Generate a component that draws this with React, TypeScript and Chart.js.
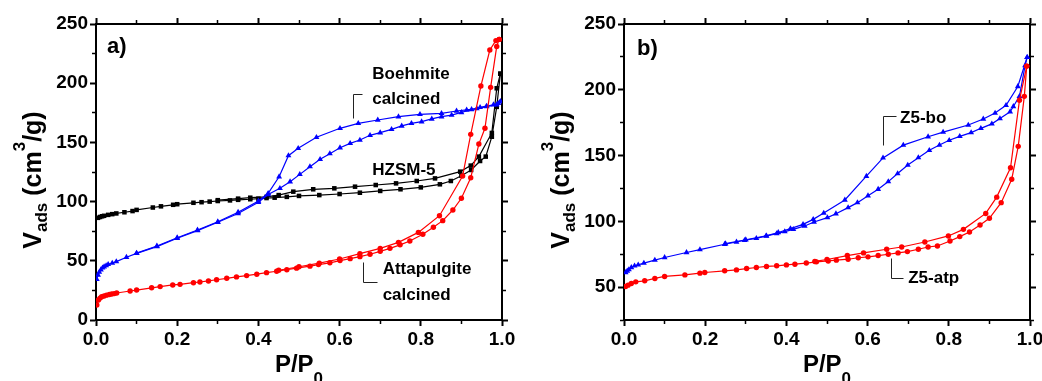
import React, { useEffect, useRef } from 'react';
import { Chart, registerables } from 'chart.js';

Chart.register(...registerables);

type Pt = [number, number];

// ---------- Panel a) ----------
const hzsmAds: Pt[] = [
  [0.005, 86.3], [0.01, 87], [0.015, 87.6], [0.02, 88], [0.03, 88.8], [0.04, 89.4], [0.05, 90],
  [0.07, 91], [0.09, 92], [0.1, 93], [0.14, 95], [0.16, 96], [0.19, 97.3], [0.2, 97.8],
  [0.24, 99], [0.26, 99.5], [0.28, 100], [0.3, 100.5], [0.33, 101], [0.35, 101.5], [0.38, 102],
  [0.4, 102.5], [0.42, 103], [0.44, 103.3], [0.47, 104], [0.5, 104.8], [0.55, 105.5],
  [0.6, 106.4], [0.65, 107.5], [0.7, 109], [0.75, 110.4], [0.8, 112], [0.847, 114.6],
  [0.874, 117.4], [0.9, 121.9], [0.924, 126.7], [0.946, 134.3], [0.96, 138], [0.975, 154.8],
  [0.987, 180], [0.996, 208],
];
const hzsmDes: Pt[] = [
  [0.996, 208], [0.987, 195.7], [0.975, 158], [0.943, 138], [0.923, 130.4], [0.897, 125.3],
  [0.835, 119.6], [0.79, 117.4], [0.739, 115.4], [0.689, 114], [0.638, 112.6], [0.587, 111.2],
  [0.535, 110.4], [0.486, 108.4], [0.45, 105.5], [0.42, 104], [0.38, 103.3], [0.35, 102.5],
  [0.3, 101.2],
];
const boehAds: Pt[] = [
  [0.002, 34.3], [0.005, 38], [0.008, 40.5], [0.012, 42.5], [0.016, 44], [0.02, 45],
  [0.025, 46], [0.03, 47], [0.04, 48], [0.05, 49.3], [0.075, 53], [0.1, 56.3], [0.15, 62],
  [0.2, 69], [0.25, 75.5], [0.3, 82.5], [0.35, 90], [0.4, 99.5], [0.424, 106], [0.453, 111.2],
  [0.478, 116.8], [0.502, 123], [0.527, 129.5], [0.552, 135.7], [0.576, 140.5], [0.601, 145.5],
  [0.626, 149.2], [0.65, 152], [0.675, 156], [0.7, 158.2], [0.728, 161], [0.753, 163.9],
  [0.777, 166.1], [0.802, 167.5], [0.827, 169.8], [0.851, 171.7], [0.876, 173.1], [0.9, 175.3],
  [0.925, 177.8], [0.946, 179.6], [0.962, 180.7], [0.979, 181.8], [0.991, 183], [0.996, 184.4],
];
const boehDes: Pt[] = [
  [0.996, 184.4], [0.987, 181.8], [0.962, 180.2], [0.938, 178.5], [0.913, 177.4],
  [0.888, 176.5], [0.851, 174.5], [0.798, 173.7], [0.745, 171.7], [0.694, 168.9],
  [0.646, 166.1], [0.601, 161.9], [0.543, 154.3], [0.498, 145], [0.474, 138.8], [0.451, 121],
  [0.424, 107], [0.4, 100.5], [0.35, 91], [0.3, 83], [0.25, 76], [0.2, 69.5], [0.15, 62.5],
  [0.1, 56.5],
];
const attaAds: Pt[] = [
  [0.002, 12.7], [0.006, 16.9], [0.01, 18.5], [0.014, 19.7], [0.02, 20.3], [0.026, 21],
  [0.033, 21.5], [0.039, 22], [0.045, 22.3], [0.051, 22.8], [0.084, 24.5], [0.1, 25.3],
  [0.137, 27.2], [0.158, 28.2], [0.189, 29.6], [0.207, 30.1], [0.24, 31.5], [0.256, 32.1],
  [0.277, 33], [0.297, 34], [0.322, 35.2], [0.346, 36.4], [0.371, 37.5], [0.396, 38.7],
  [0.42, 40], [0.445, 41.2], [0.47, 42.5], [0.494, 43.8], [0.527, 45.5], [0.548, 46.8],
  [0.576, 48.3], [0.601, 50.2], [0.626, 51.8], [0.65, 53.5], [0.675, 55.5], [0.7, 58],
  [0.724, 60.5], [0.749, 63.5], [0.773, 66.7], [0.805, 72.4], [0.831, 78.3], [0.854, 83.9],
  [0.879, 92.9], [0.9, 102.8], [0.923, 120.2], [0.943, 148.6], [0.958, 161.9], [0.972, 196.5],
  [0.987, 231], [0.993, 237],
];
const attaDes: Pt[] = [
  [0.993, 237], [0.985, 236], [0.97, 228], [0.948, 197.6], [0.923, 156.8], [0.903, 121.6],
  [0.846, 88.1], [0.794, 74], [0.745, 65.6], [0.7, 60.5], [0.65, 56], [0.6, 51.5], [0.55, 48],
  [0.5, 45], [0.45, 42],
];

// ---------- Panel b) ----------
const z5boAds: Pt[] = [
  [0.004, 61.1], [0.008, 62.3], [0.012, 63.3], [0.018, 64.9], [0.026, 66.2], [0.035, 66.9],
  [0.049, 68.2], [0.076, 70.5], [0.1, 72.5], [0.154, 76.3], [0.187, 78.5], [0.248, 82.6],
  [0.277, 84.3], [0.297, 85.6], [0.326, 87.1], [0.351, 88.9], [0.376, 90.7], [0.396, 92.2],
  [0.417, 93.9], [0.445, 96.5], [0.468, 99.5], [0.501, 102.8], [0.522, 105.8], [0.552, 110.4],
  [0.575, 114.2], [0.601, 119.5], [0.626, 124.4], [0.651, 130.2], [0.674, 136.3], [0.699, 142.8],
  [0.725, 148.4], [0.752, 154], [0.777, 158], [0.801, 161.6], [0.827, 164.6], [0.855, 167.4],
  [0.879, 170.7], [0.906, 174.1], [0.926, 178.1], [0.951, 183.3], [0.959, 187.3], [0.974, 195],
  [0.988, 218.5], [0.993, 224.7],
];
const z5boDes: Pt[] = [
  [0.993, 224.7], [0.97, 202.5], [0.941, 188.2], [0.914, 182.3], [0.885, 177.8], [0.848, 173.2],
  [0.786, 167.8], [0.749, 164.3], [0.688, 157.9], [0.638, 148.2], [0.597, 134.3], [0.544, 116.2],
  [0.492, 106.3], [0.466, 101.5], [0.441, 97.7], [0.41, 94.5], [0.38, 91.5], [0.35, 89],
  [0.3, 86], [0.25, 83],
];
const z5atpAds: Pt[] = [
  [0.004, 50.5], [0.01, 51.5], [0.018, 52.8], [0.029, 54], [0.051, 54.8], [0.076, 56.6],
  [0.1, 58.1], [0.15, 59.3], [0.187, 60.6], [0.199, 61.1], [0.248, 62.4], [0.277, 63.1],
  [0.302, 64.1], [0.326, 64.9], [0.351, 65.7], [0.376, 66.2], [0.4, 66.9], [0.421, 67.4],
  [0.449, 68.3], [0.474, 69.2], [0.503, 69.9], [0.523, 70.5], [0.552, 71.2], [0.577, 72.3],
  [0.601, 73], [0.626, 74], [0.651, 75], [0.675, 76], [0.698, 77], [0.725, 78.8], [0.749, 80.5],
  [0.772, 81.3], [0.803, 85.1], [0.827, 88.4], [0.851, 91.9], [0.877, 97.2], [0.9, 102.3],
  [0.929, 114.2], [0.955, 132], [0.971, 157], [0.986, 195], [0.992, 218],
];
const z5atpDes: Pt[] = [
  [0.992, 218], [0.974, 192], [0.952, 140.7], [0.918, 118.4], [0.891, 106], [0.836, 93.9],
  [0.799, 88.9], [0.741, 84.3], [0.684, 80.5], [0.647, 78.8], [0.59, 76], [0.55, 74],
  [0.5, 71], [0.47, 69.5],
];

// ---------- Axes / text ----------
const xTickStep = 0.1;
const yTickStep = 25;
const panelAYRange: [number, number] = [0, 250];
const panelBYRange: [number, number] = [25, 250];

type Label = { text: string; x: number; y: number; size: number };
const panelALabels: Label[] = [
  { text: 'a)', x: 0.027, y: 225.5, size: 22 },
  { text: 'Boehmite', x: 0.6805, y: 203.5, size: 17 },
  { text: 'calcined', x: 0.6805, y: 182.4, size: 17 },
  { text: 'HZSM-5', x: 0.6805, y: 122.5, size: 17 },
  { text: 'Attapulgite', x: 0.706, y: 38.9, size: 17 },
  { text: 'calcined', x: 0.706, y: 16.9, size: 17 },
];
const panelALeaders: Pt[][] = [
  [[0.632, 170.6], [0.632, 191.3], [0.654, 191.3]],
  [[0.657, 49], [0.657, 32.1], [0.692, 32.1]],
];
const panelBLabels: Label[] = [
  { text: 'b)', x: 0.032, y: 226.5, size: 22 },
  { text: 'Z5-bo', x: 0.68, y: 175, size: 17 },
  { text: 'Z5-atp', x: 0.7, y: 53, size: 17 },
];
const panelBLeaders: Pt[][] = [
  [[0.638, 158.3], [0.638, 179.8], [0.671, 179.8]],
  [[0.657, 72], [0.657, 56.8], [0.688, 56.8]],
];

const FONT = "'Liberation Sans', Arial, Helvetica, sans-serif";
const RED = '#ff0000';
const BLUE = '#0000ff';
const BLACK = '#000000';

type Part = { t: string; s: number; dy: number };

function drawParts(ctx: CanvasRenderingContext2D, parts: Part[], x: number, y: number) {
  const widths = parts.map((p) => {
    ctx.font = `bold ${p.s}px ${FONT}`;
    return ctx.measureText(p.t).width;
  });
  const total = widths.reduce((a, b) => a + b, 0);
  let cx = x - total / 2;
  parts.forEach((p, i) => {
    ctx.font = `bold ${p.s}px ${FONT}`;
    ctx.fillText(p.t, cx, y + p.dy);
    cx += widths[i];
  });
}

function makeOverlay(labels: Label[], leaders: Pt[][]) {
  return {
    id: 'overlay',
    afterDraw(chart: any) {
      const ctx: CanvasRenderingContext2D = chart.ctx;
      const xs = chart.scales.x;
      const ys = chart.scales.y;
      const area = chart.chartArea;
      ctx.save();
      ctx.fillStyle = BLACK;
      ctx.textAlign = 'left';
      ctx.textBaseline = 'alphabetic';
      for (const l of labels) {
        ctx.font = `bold ${l.size}px ${FONT}`;
        ctx.fillText(l.text, xs.getPixelForValue(l.x), ys.getPixelForValue(l.y));
      }
      ctx.strokeStyle = '#222';
      ctx.lineWidth = 1;
      for (const ln of leaders) {
        ctx.beginPath();
        ln.forEach(([x, y], i) => {
          const px = Math.round(xs.getPixelForValue(x)) + 0.5;
          const py = Math.round(ys.getPixelForValue(y)) + 0.5;
          if (i === 0) ctx.moveTo(px, py);
          else ctx.lineTo(px, py);
        });
        ctx.stroke();
      }
      // x-axis title
      drawParts(
        ctx,
        [
          { t: 'P/P', s: 24, dy: 0 },
          { t: '0', s: 17, dy: 12 },
        ],
        (area.left + area.right) / 2,
        area.bottom + 52
      );
      // y-axis title (rotated)
      ctx.translate(area.left - 55, (area.top + area.bottom) / 2 + 8);
      ctx.rotate(-Math.PI / 2);
      drawParts(
        ctx,
        [
          { t: 'V', s: 25, dy: 0 },
          { t: 'ads', s: 17, dy: 6 },
          { t: ' (cm', s: 25, dy: 0 },
          { t: '3', s: 17, dy: -16 },
          { t: '/g)', s: 25, dy: 0 },
        ],
        0,
        0
      );
      ctx.restore();
    },
  };
}

function series(data: Pt[], color: string, style: string, radius: number) {
  return {
    data: data.map(([x, y]) => ({ x, y })),
    showLine: true,
    borderColor: color,
    backgroundColor: color,
    borderWidth: 1.2,
    pointStyle: style,
    pointRadius: radius,
    pointBorderWidth: 0,
    pointBackgroundColor: color,
    tension: 0,
  };
}

const isMajorX = (v: number) => Math.round(v * 10) % 2 === 0;
const isMajorY = (v: number) => Math.round(v) % 50 === 0;

function makeScales(yRange: [number, number], leftWidth: number) {
  const tickFont = { family: FONT, size: 19, weight: 'bold' as const };
  const border = { color: BLACK, width: 2 };
  const gridFor = (isMajor: (v: number) => boolean, outerFirst: boolean) => ({
    drawOnChartArea: false,
    drawTicks: true,
    tickLength: 6,
    tickColor: BLACK,
    tickWidth: (c: any) => (isMajor(c.tick.value) ? 2 : 1.5),
    tickBorderDash: (c: any) => (isMajor(c.tick.value) ? [] : [3, 20]),
    tickBorderDashOffset: (c: any) => (isMajor(c.tick.value) ? 0 : outerFirst ? 21 : 0),
  });
  return {
    x: {
      type: 'linear',
      position: 'bottom',
      min: 0,
      max: 1,
      border,
      grid: gridFor(isMajorX, false),
      ticks: {
        stepSize: xTickStep,
        autoSkip: false,
        maxRotation: 0,
        padding: 2,
        color: BLACK,
        font: tickFont,
        callback: (v: any) => (isMajorX(Number(v)) ? Number(v).toFixed(1) : ''),
      },
      afterFit: (s: any) => {
        s.height = 61;
        s.paddingLeft = 0;
        s.paddingRight = 0;
      },
    },
    x2: {
      type: 'linear',
      position: 'top',
      min: 0,
      max: 1,
      border,
      grid: gridFor(isMajorX, true),
      ticks: { display: false, stepSize: xTickStep, autoSkip: false },
      afterFit: (s: any) => {
        s.height = 6;
        s.paddingLeft = 0;
        s.paddingRight = 0;
      },
    },
    y: {
      type: 'linear',
      position: 'left',
      min: yRange[0],
      max: yRange[1],
      border,
      grid: gridFor(isMajorY, true),
      ticks: {
        stepSize: yTickStep,
        autoSkip: false,
        padding: 2,
        color: BLACK,
        font: tickFont,
        callback: (v: any) => (isMajorY(Number(v)) ? String(v) : ''),
      },
      afterFit: (s: any) => {
        s.width = leftWidth;
        s.paddingTop = 0;
        s.paddingBottom = 0;
      },
    },
    y2: {
      type: 'linear',
      position: 'right',
      min: yRange[0],
      max: yRange[1],
      border,
      grid: gridFor(isMajorY, false),
      ticks: { display: false, stepSize: yTickStep, autoSkip: false },
      afterFit: (s: any) => {
        s.width = 6;
        s.paddingTop = 0;
        s.paddingBottom = 0;
      },
    },
  };
}

function Panel(props: {
  width: number;
  left: number;
  datasets: any[];
  yRange: [number, number];
  leftWidth: number;
  padRight: number;
  labels: Label[];
  leaders: Pt[][];
}) {
  const ref = useRef<HTMLCanvasElement | null>(null);
  useEffect(() => {
    if (!ref.current) return;
    const chart = new Chart(ref.current, {
      type: 'scatter',
      data: { datasets: props.datasets },
      options: {
        responsive: false,
        maintainAspectRatio: false,
        animation: false,
        devicePixelRatio: 1,
        layout: { padding: { left: 0, right: props.padRight, top: 18, bottom: 0 } },
        plugins: { legend: { display: false }, tooltip: { enabled: false } },
        scales: makeScales(props.yRange, props.leftWidth) as any,
      },
      plugins: [makeOverlay(props.labels, props.leaders)],
    } as any);
    return () => chart.destroy();
  }, []);
  return (
    <canvas
      ref={ref}
      width={props.width}
      height={381}
      style={{ position: 'absolute', left: props.left, top: 0, width: props.width, height: 381 }}
    />
  );
}

export default function App() {
  const dsA = [
    series(attaAds, RED, 'circle', 2.7),
    series(attaDes, RED, 'circle', 2.7),
    series(boehAds, BLUE, 'triangle', 3.4),
    series(boehDes, BLUE, 'triangle', 3.4),
    series(hzsmAds, BLACK, 'rect', 3.2),
    series(hzsmDes, BLACK, 'rect', 3.2),
  ];
  const dsB = [
    series(z5atpAds, RED, 'circle', 2.7),
    series(z5atpDes, RED, 'circle', 2.7),
    series(z5boAds, BLUE, 'triangle', 3.4),
    series(z5boDes, BLUE, 'triangle', 3.4),
  ];
  return (
    <div style={{ position: 'fixed', left: 0, top: 0, width: 1042, height: 381, background: '#fff', overflow: 'hidden' }}>
      <Panel width={520} left={0} datasets={dsA} yRange={panelAYRange} leftWidth={96} padRight={12}
        labels={panelALabels} leaders={panelALeaders} />
      <Panel width={522} left={520} datasets={dsB} yRange={panelBYRange} leftWidth={104} padRight={6}
        labels={panelBLabels} leaders={panelBLeaders} />
    </div>
  );
}
